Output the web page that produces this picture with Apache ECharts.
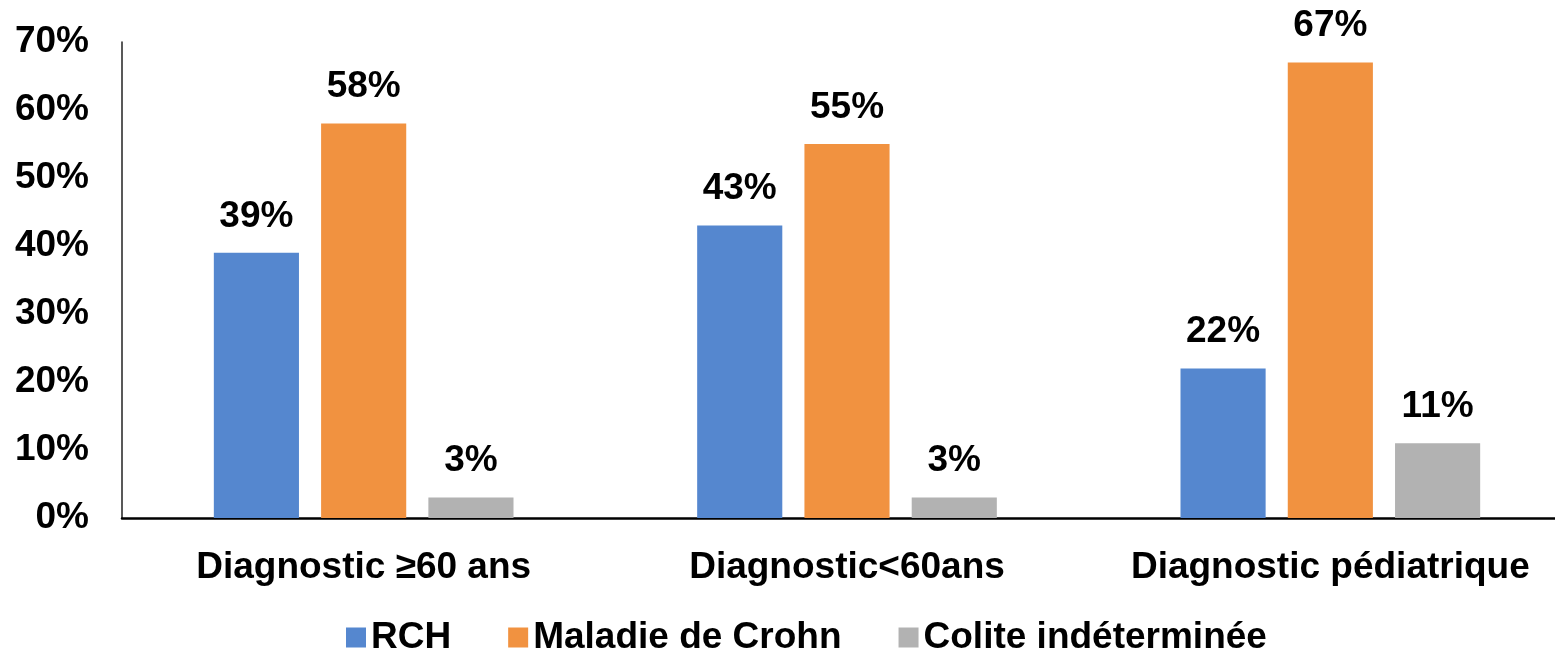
<!DOCTYPE html>
<html>
<head>
<meta charset="utf-8">
<script src="https://cdn.jsdelivr.net/npm/echarts@6/dist/echarts.min.js"></script>
<style>
  html, body { margin: 0; padding: 0; background: #fff; }
  #main { width: 1555px; height: 656px; }
</style>
</head>
<body>
<div id="main"></div>
<script>
// données
var categories = ['Diagnostic \u226560 ans', 'Diagnostic<60ans', 'Diagnostic p\u00e9diatrique'];
var rch = [39, 43, 22];
var crohn = [58, 55, 67];
var colite = [3, 3, 11];
var seriesNames = ['RCH', 'Maladie de Crohn', 'Colite ind\u00e9termin\u00e9e'];
var colors = ['#5587CF', '#F19240', '#B2B2B2'];

var fontFam = '"Liberation Sans", Arial, sans-serif';
var myChart = echarts.init(document.getElementById('main'));

function makeSerie(name, data, color) {
  return {
    name: name,
    type: 'bar',
    data: data,
    barGap: '26%',
    barCategoryGap: '38%',
    itemStyle: { color: color },
    label: {
      show: true,
      position: 'top',
      distance: 18,
      formatter: '{c}%',
      color: '#000',
      fontSize: 37,
      fontWeight: 'bold',
      fontFamily: fontFam
    }
  };
}

var option = {
  animation: false,
  color: colors,
  grid: {
    left: 122,
    top: 42,
    bottom: 138,
    width: 1450,
    outerBoundsMode: 'none'
  },
  legend: {
    data: seriesNames,
    left: 341,
    top: 614,
    icon: 'rect',
    itemWidth: 20,
    itemHeight: 20,
    itemGap: 57,
    textStyle: {
      color: '#000',
      fontSize: 37,
      fontWeight: 'bold',
      fontFamily: fontFam
    }
  },
  xAxis: {
    type: 'category',
    data: categories,
    axisLine: { lineStyle: { color: '#000', width: 2.5 } },
    axisTick: { show: false },
    axisLabel: {
      interval: 0,
      margin: 31,
      color: '#000',
      fontSize: 37,
      fontWeight: 'bold',
      fontFamily: fontFam
    }
  },
  yAxis: {
    type: 'value',
    min: 0,
    max: 70,
    interval: 10,
    axisLine: { show: true, lineStyle: { color: '#222', width: 1.5 } },
    axisTick: { show: false },
    splitLine: { show: false },
    axisLabel: {
      margin: 33,
      formatter: '{value}%',
      color: '#000',
      fontSize: 37,
      fontWeight: 'bold',
      fontFamily: fontFam
    }
  },
  series: [
    makeSerie(seriesNames[0], rch, colors[0]),
    makeSerie(seriesNames[1], crohn, colors[1]),
    makeSerie(seriesNames[2], colite, colors[2])
  ]
};
myChart.setOption(option);
</script>
</body>
</html>
